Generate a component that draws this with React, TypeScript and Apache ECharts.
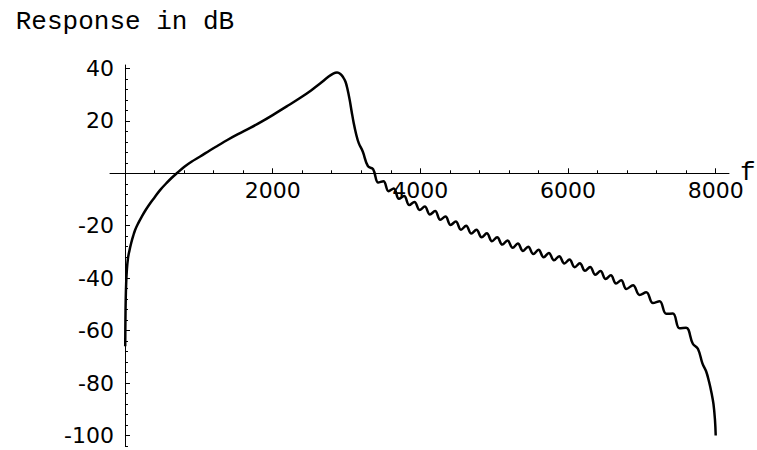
import React, { useEffect, useRef } from "react";
import * as echarts from "echarts";

// Frequency response (f in Hz, response in dB)
const curve: [number, number][] = [
  [3, -66], [6, -56], [10, -48], [16, -42], [25, -37], [40, -32.5], [60, -29.5],
  [85, -26.5], [110, -24], [136, -21.7], [180, -19], [226, -16.6], [280, -14],
  [339, -11.5], [400, -9.2], [475, -6.4], [560, -3.8], [630, -1.8], [701, 0],
  [800, 2.4], [900, 4.4], [1018, 6.4], [1153, 8.8], [1260, 10.6], [1380, 12.6],
  [1530, 14.9], [1696, 17.3], [1850, 19.7], [2000, 22.2], [2190, 25.5],
  [2375, 28.8], [2520, 31.6], [2646, 34.3], [2750, 36.7], [2820, 38.0],
  [2872, 38.4], [2917, 37.9], [2955, 36.6], [2985, 35], [3010, 32.5],
  [3043, 28], [3070, 23.5], [3098, 19.1], [3130, 15], [3166, 11.5],
  [3220, 8.3], [3290, 2.7], [3360, 1.6], [3430, -3.5], [3500, -3.0],
  [3570, -6.8], [3640, -5.8], [3710, -9.7], [3780, -8.7], [3850, -12.1],
  [3920, -10.9], [3990, -14.0], [4060, -12.7], [4130, -15.7], [4200, -14.4],
  [4270, -17.7], [4340, -16.5], [4410, -19.7], [4480, -18.4], [4550, -21.5],
  [4620, -20.0], [4690, -23.0], [4760, -21.5], [4830, -24.4], [4900, -22.9],
  [4970, -25.9], [5040, -24.4], [5110, -27.2], [5180, -25.6], [5250, -28.4],
  [5320, -26.8], [5390, -29.6], [5460, -28.0], [5530, -30.8], [5600, -29.2],
  [5670, -32.0], [5740, -30.4], [5810, -33.2], [5880, -31.6], [5950, -34.4],
  [6020, -32.9], [6090, -35.8], [6160, -34.3], [6230, -37.2], [6300, -35.7],
  [6370, -38.7], [6440, -37.3], [6510, -40.3], [6580, -38.9], [6650, -42.0],
  [6720, -40.8], [6790, -44.1], [6880, -42.7], [6970, -46.4], [7060, -45.4],
  [7150, -49.5], [7240, -48.8], [7330, -53.6], [7420, -53.5], [7510, -59.1],
  [7600, -58.9], [7690, -65.0], [7760, -67.0], [7820, -72.5], [7870, -75.5],
  [7910, -79.5], [7945, -84], [7970, -88], [7990, -94], [8000, -100],
];

const xRange = [-203, 8180];
const yRange = [-104, 41.3];
const xMajorTicks = [2000, 4000, 6000, 8000];
const xMinorTicks = [
  400, 800, 1200, 1600, 2000, 2400, 2800, 3200, 3600, 4000,
  4400, 4800, 5200, 5600, 6000, 6400, 6800, 7200, 7600, 8000,
];
const yMajorTicks = [-100, -80, -60, -40, -20, 20, 40];
const yMinorTicks = [
  -104, -100, -96, -92, -88, -84, -80, -76, -72, -68, -64, -60, -56, -52,
  -48, -44, -40, -36, -32, -28, -24, -20, -16, -12, -8, -4,
  4, 8, 12, 16, 20, 24, 28, 32, 36, 40,
];
const xName = "f";
const yName = "Response in dB";

const labelFont = { fontFamily: "DejaVu Sans", fontSize: 22, color: "#000" };
const nameFont = { fontFamily: "Liberation Mono", fontSize: 26, color: "#000" };
const lineCol = "#000";
const plain = (v: number) => String(v);

export default function App() {
  const ref = useRef<HTMLDivElement>(null);
  useEffect(() => {
    document.body.style.margin = "0";
    if (!ref.current) return;
    const chart = echarts.init(ref.current, null, { renderer: "svg" });
    chart.setOption({
      animation: false,
      backgroundColor: "#fff",
      grid: { left: 110, right: 28, top: 65, bottom: 4, outerBoundsMode: "none" },
      xAxis: [
        {
          type: "value",
          min: xRange[0],
          max: xRange[1],
          name: xName,
          nameLocation: "end",
          nameGap: 11,
          nameTextStyle: nameFont,
          nameMoveOverlap: false,
          axisLine: { show: true, onZero: true, onZeroAxisIndex: 0, lineStyle: { color: lineCol, width: 1 } },
          axisTick: { show: true, inside: true, length: 5, customValues: xMajorTicks, lineStyle: { color: lineCol } },
          axisLabel: { show: true, customValues: xMajorTicks, margin: -267, formatter: plain, hideOverlap: false, ...labelFont },
          splitLine: { show: false },
        },
        {
          type: "value",
          min: xRange[0],
          max: xRange[1],
          position: "bottom",
          axisLine: { show: false, onZero: true, onZeroAxisIndex: 0 },
          axisTick: { show: true, inside: true, length: 3, customValues: xMinorTicks, lineStyle: { color: lineCol } },
          axisLabel: { show: false },
          splitLine: { show: false },
        },
      ],
      yAxis: [
        {
          type: "value",
          min: yRange[0],
          max: yRange[1],
          name: yName,
          nameLocation: "end",
          nameGap: 30,
          nameTextStyle: { ...nameFont, align: "center" },
          nameMoveOverlap: false,
          axisLine: { show: true, onZero: true, onZeroAxisIndex: 0, lineStyle: { color: lineCol, width: 1 } },
          axisTick: { show: true, inside: true, length: 5, customValues: yMajorTicks, lineStyle: { color: lineCol } },
          axisLabel: { show: true, customValues: yMajorTicks, margin: -4, formatter: plain, ...labelFont },
          splitLine: { show: false },
        },
        {
          type: "value",
          min: yRange[0],
          max: yRange[1],
          position: "left",
          axisLine: { show: false, onZero: true, onZeroAxisIndex: 0 },
          axisTick: { show: true, inside: true, length: 3, customValues: yMinorTicks, lineStyle: { color: lineCol } },
          axisLabel: { show: false },
          splitLine: { show: false },
        },
      ],
      series: [
        {
          type: "line",
          xAxisIndex: 0,
          yAxisIndex: 0,
          data: curve,
          showSymbol: false,
          smooth: 0.4,
          silent: true,
          lineStyle: { color: "#000", width: 2.5 },
        },
      ],
    });
    return () => chart.dispose();
  }, []);
  return <div ref={ref} style={{ width: 757, height: 450 }} />;
}
